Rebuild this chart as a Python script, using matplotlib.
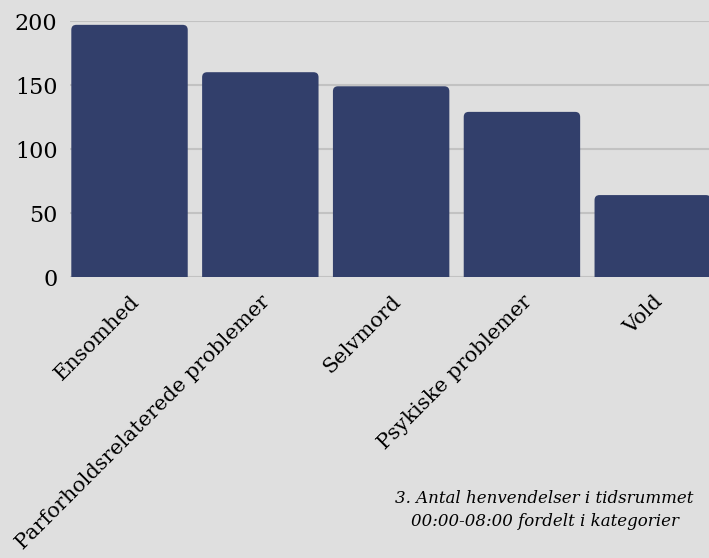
import matplotlib
matplotlib.use("Agg")
import matplotlib.pyplot as plt
import matplotlib.transforms as mtransforms
from matplotlib.patches import FancyBboxPatch

categories = ["Ensomhed", "Parforholdsrelaterede problemer", "Selvmord",
              "Psykiske problemer", "Vold"]
counts = [197, 160, 149, 129, 64]
yticks = [0, 50, 100, 150, 200]

bg = "#dfdfdf"
bar_color = "#323f6b"

plt.rcParams["font.family"] = ["DejaVu Serif"]

fig = plt.figure(figsize=(7.09, 5.58), dpi=100, facecolor=bg)
ax = fig.add_axes([70 / 709, 1 - 277 / 558, 639 / 709, 256 / 558])
ax.set_facecolor(bg)

xs = range(len(categories))
width = 0.89
ax.set_xlim(-0.455, len(categories) - 0.57)
ax.set_ylim(0, 200)

# data units per pixel, to keep rounded corners circular
fig.canvas.draw()
bb = ax.get_window_extent()
ux = (ax.get_xlim()[1] - ax.get_xlim()[0]) / bb.width
uy = (ax.get_ylim()[1] - ax.get_ylim()[0]) / bb.height
r = 5 * ux

for x, v in zip(xs, counts):
    p = FancyBboxPatch((x - width / 2, -10), width, v + 10,
                       boxstyle=f"round,pad=0,rounding_size={r}",
                       mutation_aspect=uy / ux,
                       facecolor=bar_color, edgecolor="none", zorder=3)
    ax.add_patch(p)

ax.set_yticks(yticks)
ax.set_yticklabels([str(t) for t in yticks], fontsize=16)
ax.grid(axis="y", color="#c2c2c2", linewidth=1.5, zorder=0)
ax.set_xticks(list(xs))
ax.set_xticklabels(categories, rotation=45, ha="right", va="top",
                   rotation_mode="anchor", fontsize=15)
ax.tick_params(length=0, pad=0)
ax.tick_params(axis="y", pad=9)
shift = mtransforms.ScaledTranslation(0 / 100, -15 / 100, fig.dpi_scale_trans)
for lbl in ax.get_xticklabels():
    lbl.set_transform(lbl.get_transform() + shift)
for s in ax.spines.values():
    s.set_visible(False)

fig.text(0.768, 0.086, "3. Antal henvendelser i tidsrummet\n00:00-08:00 fordelt i kategorier",
         ha="center", va="center", style="italic", fontsize=12, linespacing=1.5)

fig.savefig("out.png", dpi=100, facecolor=bg)
